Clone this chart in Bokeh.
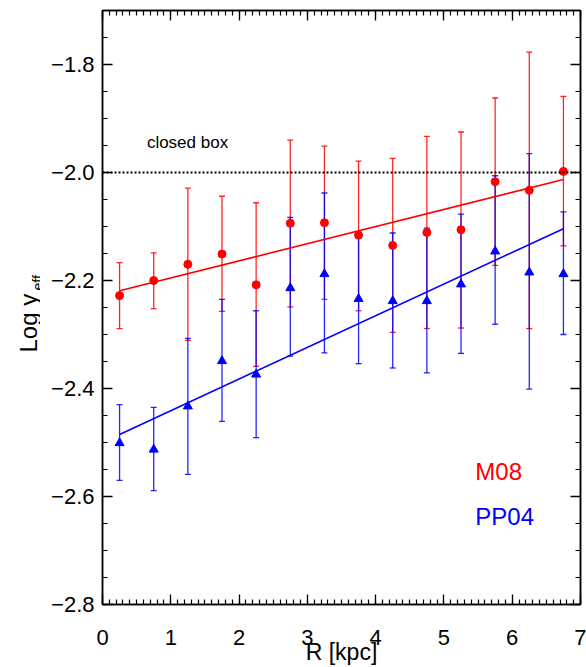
import math
from bokeh.plotting import figure
from bokeh.layouts import row
from bokeh.models import (ColumnDataSource, Whisker, TeeHead, Label, Span, LinearAxis,
                          SingleIntervalTicker, FixedTicker, CustomJSTickFormatter, Range1d)
from bokeh.core.properties import value
from bokeh.embed import file_html
from bokeh.resources import INLINE

# ---- data ----
R_kpc = [0.25, 0.75, 1.25, 1.75, 2.25, 2.75, 3.25, 3.75, 4.25, 4.75, 5.25, 5.75, 6.25, 6.75]

m08_y = [-2.228, -2.200, -2.170, -2.151, -2.208, -2.094, -2.093, -2.116, -2.135, -2.111, -2.106, -2.017, -2.033, -1.998]
m08_hi = [-2.167, -2.149, -2.029, -2.044, -2.056, -1.940, -1.951, -1.979, -1.974, -1.933, -1.925, -1.862, -1.777, -1.859]
m08_lo = [-2.289, -2.252, -2.311, -2.257, -2.359, -2.249, -2.235, -2.256, -2.296, -2.289, -2.288, -2.172, -2.289, -2.136]

pp04_y = [-2.501, -2.513, -2.433, -2.349, -2.374, -2.214, -2.188, -2.234, -2.238, -2.238, -2.207, -2.146, -2.185, -2.188]
pp04_hi = [-2.430, -2.435, -2.307, -2.235, -2.256, -2.083, -2.038, -2.112, -2.112, -2.103, -2.077, -2.006, -1.965, -2.073]
pp04_lo = [-2.570, -2.589, -2.559, -2.461, -2.491, -2.340, -2.334, -2.354, -2.362, -2.371, -2.335, -2.281, -2.401, -2.300]

fit_x = [0.25, 6.75]
m08_fit_y = [-2.219, -2.013]
pp04_fit_y = [-2.485, -2.104]

closed_box = -2.0

x_ticks = [0, 1, 2, 3, 4, 5, 6, 7]
y_ticks = [-2.8, -2.6, -2.4, -2.2, -2.0, -1.8]

RED = "#ff0000"
BLUE = "#0000ff"
FONT = "Liberation Sans"

STRIP_W = 40
H = 667
FRAME_TOP = 10
FRAME_BOTTOM = 604

# ---- main plot ----
p = figure(width=586 - STRIP_W, height=H, x_range=Range1d(0, 7), y_range=Range1d(-2.8, -1.7),
           output_backend="svg", toolbar_location=None,
           min_border_left=102 - STRIP_W, min_border_right=6, min_border_top=FRAME_TOP,
           min_border_bottom=H - FRAME_BOTTOM)
p.xgrid.visible = False
p.ygrid.visible = False
p.outline_line_color = "black"
p.outline_line_width = 1.5
p.background_fill_color = "white"
p.border_fill_color = "white"

y_minor = [round(-2.8 + 0.05 * i, 2) for i in range(23)]
xt = SingleIntervalTicker(interval=1, num_minor_ticks=10)
yt = FixedTicker(ticks=y_ticks, minor_ticks=y_minor)

def style(ax):
    ax.major_tick_in = 10
    ax.major_tick_out = 0
    ax.minor_tick_in = 5
    ax.minor_tick_out = 0
    ax.axis_line_width = 1.5
    ax.major_tick_line_width = 1.3
    ax.minor_tick_line_width = 1.2
    ax.axis_line_color = "black"
    ax.major_tick_line_color = "black"
    ax.minor_tick_line_color = "black"
    ax.major_label_text_font = FONT
    ax.major_label_text_font_size = "22px"
    ax.major_label_text_color = "black"

p.xaxis.ticker = xt
p.yaxis.ticker = yt
style(p.xaxis[0])
style(p.yaxis[0])
p.xaxis.major_label_standoff = 25
p.yaxis.major_label_standoff = 8
p.yaxis.formatter = CustomJSTickFormatter(
    code="return (tick < -1e-9 ? '\\u2212' : '') + Math.abs(tick).toFixed(1);")

p.xaxis.axis_label = "R [kpc]"
p.xaxis.axis_label_text_font = FONT
p.xaxis.axis_label_text_font_size = "23px"
p.xaxis.axis_label_text_font_style = "normal"
p.xaxis.axis_label_text_color = "black"
p.xaxis.axis_label_standoff = -9

for loc, tk in (("above", xt), ("right", yt)):
    ax = LinearAxis(ticker=tk, formatter=CustomJSTickFormatter(code="return '';"))
    style(ax)
    ax.major_label_text_font_size = "0px"
    ax.major_label_standoff = 0
    p.add_layout(ax, loc)

# closed box dotted line
p.add_layout(Span(location=closed_box, dimension="width", line_color="black",
                  line_width=2.2, line_dash="2 2"))

src_m = ColumnDataSource(dict(x=R_kpc, y=m08_y, lo=m08_lo, hi=m08_hi))
src_p = ColumnDataSource(dict(x=R_kpc, y=pp04_y, lo=pp04_lo, hi=pp04_hi))

for src, col in ((src_m, RED), (src_p, BLUE)):
    w = Whisker(source=src, base="x", lower="lo", upper="hi", line_color=col,
                line_width=1.3, line_alpha=0.85,
                lower_head=TeeHead(size=6, line_color=col, line_width=1.3, line_alpha=0.85),
                upper_head=TeeHead(size=6, line_color=col, line_width=1.3, line_alpha=0.85))
    p.add_layout(w)

p.line(fit_x, m08_fit_y, line_color=RED, line_width=1.6)
p.line(fit_x, pp04_fit_y, line_color=BLUE, line_width=1.6)

p.scatter("x", "y", source=src_m, marker="circle", size=8, fill_color=RED, line_color=RED)
p.scatter("x", "y", source=src_p, marker="triangle", size=9, fill_color=BLUE, line_color=BLUE)

p.add_layout(Label(x=0.65, y=-1.944, text="closed box", text_font=FONT,
                   text_font_size="17px", text_color="black", text_baseline="alphabetic"))
p.add_layout(Label(x=5.46, y=-2.553, text="M08", text_font=FONT,
                   text_font_size="24px", text_color=RED, text_baseline="alphabetic"))
p.add_layout(Label(x=5.46, y=-2.637, text="PP04", text_font=FONT,
                   text_font_size="24px", text_color=BLUE, text_baseline="alphabetic"))

# ---- left strip holding the y-axis title (page pixel coordinates, top-down) ----
# its frame is aligned with the main frame by the row layout
s = figure(width=STRIP_W, height=H, x_range=Range1d(0, STRIP_W),
           y_range=Range1d(FRAME_BOTTOM, FRAME_TOP),
           output_backend="svg", toolbar_location=None, min_border=0,
           min_border_top=FRAME_TOP, min_border_bottom=H - FRAME_BOTTOM,
           x_axis_location=None, y_axis_location=None)
s.grid.visible = False
s.outline_line_color = None
s.text(x=[28], y=[352], text=["Log y"], angle=math.pi / 2, text_font=value(FONT),
       text_font_size="24px", text_color="black", text_align="left",
       text_baseline="alphabetic")
s.text(x=[37], y=[290], text=["eff"], angle=math.pi / 2, text_font=value(FONT),
       text_font_size="14px", text_color="black", text_align="left",
       text_baseline="alphabetic")

layout = row(s, p, spacing=0)
open("out.html", "w", encoding="utf-8").write(file_html(layout, INLINE))
